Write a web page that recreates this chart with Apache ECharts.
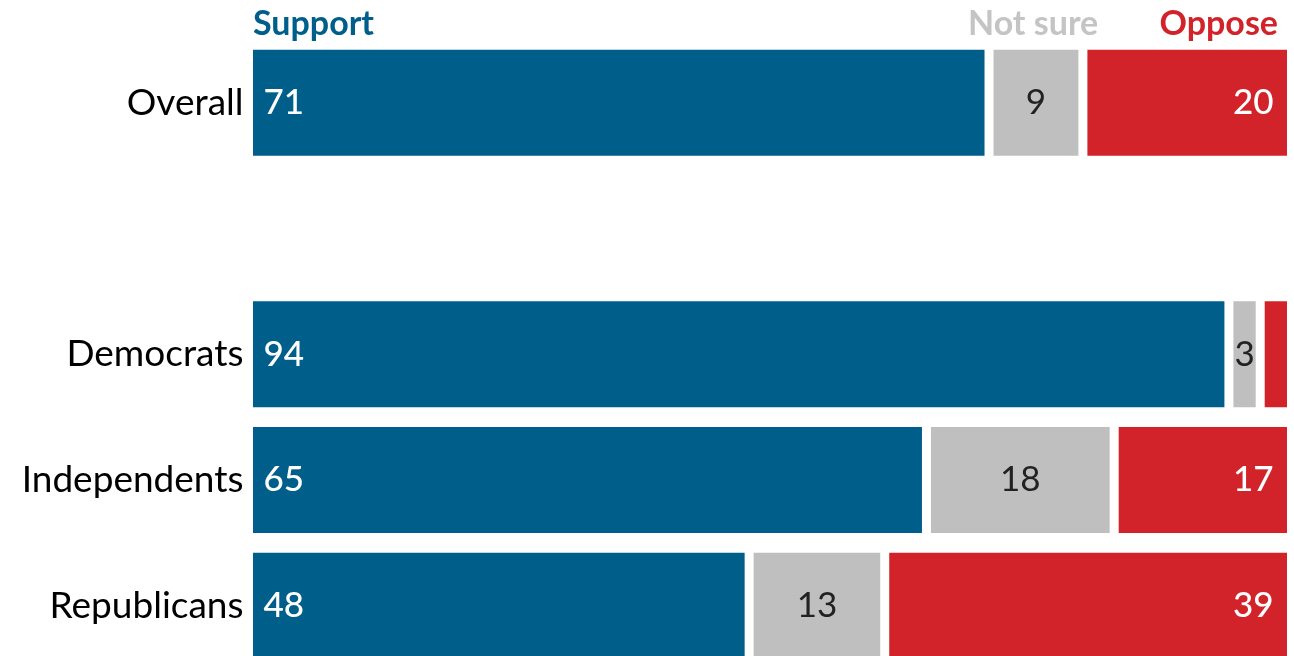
<!DOCTYPE html>
<html>
<head>
<meta charset="utf-8">
<script src="https://cdn.jsdelivr.net/npm/echarts@6/dist/echarts.min.js"></script>
<style>
  html, body { margin: 0; padding: 0; background: #fff; overflow: hidden; }
  /* taller than the window: the last row runs off the bottom like the original */
  #chart { width: 1294px; height: 672px; }
</style>
</head>
<body>
<div id="chart"></div>
<script>
// categories (the blank one is the spacer row under Overall)
const groups = ['Overall', '', 'Democrats', 'Independents', 'Republicans'];
const support = [71, '-', 94, 65, 48];
const notSure = [9, '-', 3, 18, 13];
const oppose = [20, '-', 3, 17, 39];

const BLUE = '#005e8a';
const GREY = '#bfbfbf';
const RED = '#d2232a';
const FONT = 'Lato, "Open Sans", sans-serif';

const chart = echarts.init(document.getElementById('chart'));

// white border makes the gaps between the segments
const seg = (name, data, color, label) => ({
  name,
  type: 'bar',
  stack: 'all',
  data,
  barWidth: 115,
  itemStyle: { color, borderColor: '#fff', borderWidth: 4.5 },
  label,
  emphasis: { disabled: true },
});

chart.setOption({
  animation: false,
  grid: { left: 248.5, right: 2.5, top: 40, height: 628.5, containLabel: false },
  xAxis: {
    type: 'value', min: 0, max: 100, show: false,
  },
  yAxis: {
    type: 'category',
    data: groups,
    inverse: true,
    axisLine: { show: false },
    axisTick: { show: false },
    axisLabel: {
      color: '#000', fontFamily: FONT, fontSize: 37, margin: 5,
    },
  },
  series: [
    seg('Support', support, BLUE, {
      show: true, position: 'insideLeft', distance: 15,
      color: '#fff', fontFamily: FONT, fontSize: 35, fontWeight: 500,
    }),
    seg('Not sure', notSure, GREY, {
      show: true, position: 'inside',
      color: '#222', fontFamily: FONT, fontSize: 35, fontWeight: 400,
    }),
    seg('Oppose', oppose, RED, {
      show: true, position: 'insideRight', distance: 18,
      color: '#fff', fontFamily: FONT, fontSize: 35, fontWeight: 500,
      formatter: (p) => (p.value >= 5 ? p.value : ''),
    }),
  ],
  graphic: [
    { type: 'text', left: 253, top: 7, style: { text: 'Support', fill: BLUE, font: `bold 34px ${FONT}` } },
    { type: 'text', left: 968, top: 7, style: { text: 'Not sure', fill: '#c4c4c4', font: `bold 34px ${FONT}` } },
    { type: 'text', right: 16, top: 7, style: { text: 'Oppose', fill: RED, font: `bold 34px ${FONT}` } },
  ],
});
</script>
</body>
</html>
